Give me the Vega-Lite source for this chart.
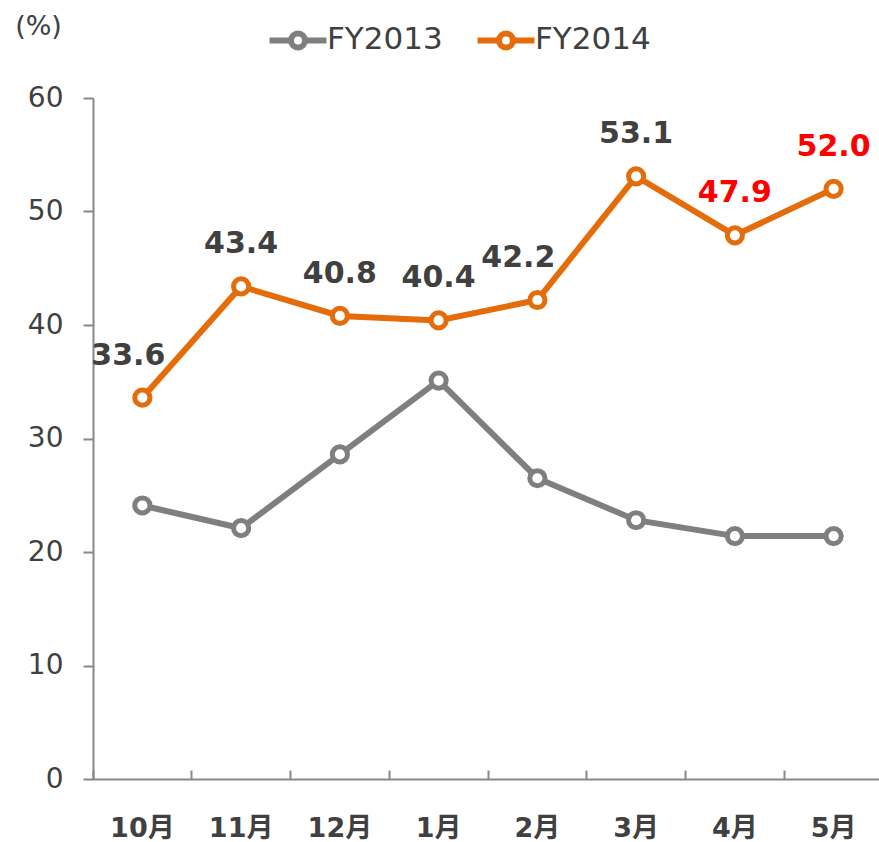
{
  "$schema": "https://vega.github.io/schema/vega-lite/v6.json",
  "autosize": "none",
  "width": 790,
  "height": 681,
  "padding": {"left": 93, "top": 98, "right": 0, "bottom": 63},
  "background": "white",
  "config": {
    "view": {"stroke": null},
    "font": "DejaVu Sans, Noto Sans CJK JP"
  },
  "data": {
    "values": [
      {"month": "10月", "series": "FY2013", "value": 24.1},
      {"month": "11月", "series": "FY2013", "value": 22.1},
      {"month": "12月", "series": "FY2013", "value": 28.6},
      {"month": "1月", "series": "FY2013", "value": 35.1},
      {"month": "2月", "series": "FY2013", "value": 26.5},
      {"month": "3月", "series": "FY2013", "value": 22.8},
      {"month": "4月", "series": "FY2013", "value": 21.4},
      {"month": "5月", "series": "FY2013", "value": 21.4},
      {"month": "10月", "series": "FY2014", "value": 33.6},
      {"month": "11月", "series": "FY2014", "value": 43.4},
      {"month": "12月", "series": "FY2014", "value": 40.8},
      {"month": "1月", "series": "FY2014", "value": 40.4},
      {"month": "2月", "series": "FY2014", "value": 42.2},
      {"month": "3月", "series": "FY2014", "value": 53.1},
      {"month": "4月", "series": "FY2014", "value": 47.9},
      {"month": "5月", "series": "FY2014", "value": 52.0}
    ]
  },
  "encoding": {
    "y": {
      "field": "value", "type": "quantitative",
      "scale": {"domain": [0, 60], "nice": false},
      "axis": {
        "values": [0, 10, 20, 30, 40, 50, 60],
        "grid": false,
        "domainColor": "#888888", "domainWidth": 2,
        "tickColor": "#888888", "tickWidth": 2, "tickSize": 10,
        "labelFontSize": 28, "labelColor": "#404040", "labelPadding": 20,
        "title": "(%)", "titleAngle": 0, "titleX": -55, "titleY": -72,
        "titleAlign": "center", "titleBaseline": "middle",
        "titleFontSize": 27, "titleFontWeight": "normal", "titleColor": "#404040"
      }
    },
    "color": {
      "field": "series", "type": "nominal",
      "scale": {"domain": ["FY2013", "FY2014"], "range": ["#7f7f7f", "#e46c0a"]},
      "legend": {
        "title": null, "orient": "none", "direction": "horizontal",
        "legendX": 183, "legendY": -80, "padding": 0,
        "symbolType": "M-1.5,0H-0.37A0.37,0.37 0 1,1 0.37,0H1.5M0.37,0A0.37,0.37 0 1,1 -0.37,0",
        "symbolSize": 1444, "symbolStrokeWidth": 6, "symbolFillColor": "white",
        "labelFontSize": 31, "labelColor": "#404040", "labelOffset": 7,
        "columnPadding": 22, "labelFont": "DejaVu Sans"
      }
    }
  },
  "layer": [
    {
      "encoding": {
        "x": {
          "field": "month", "type": "nominal",
          "sort": ["10月", "11月", "12月", "1月", "2月", "3月", "4月", "5月"],
          "scale": {"type": "band", "paddingInner": 0, "paddingOuter": 0},
          "axis": {
            "title": null, "labelAngle": 0, "orient": "bottom",
            "domainColor": "#888888", "domainWidth": 2,
            "ticks": false,
            "labelFontSize": 27, "labelFontWeight": "bold", "labelColor": "#404040",
            "labelPadding": 49, "labelBaseline": "middle",
            "labelFont": "DejaVu Sans, Noto Sans CJK JP"
          }
        }
      },
      "layer": [
        {
          "mark": {"type": "line", "strokeWidth": 6}
        },
        {
          "transform": [{"filter": "datum.series === 'FY2014' && datum.month !== '10月' && datum.month !== '2月'"}],
          "mark": {"type": "text", "fontSize": 30, "fontWeight": "bold", "dy": -42, "font": "DejaVu Sans"},
          "encoding": {
            "text": {"field": "value", "type": "quantitative", "format": ".1f"},
            "color": {
              "condition": {"test": "datum.month === '4月' || datum.month === '5月'", "value": "#ff0000"},
              "value": "#404040"
            }
          }
        },
        {
          "transform": [{"filter": "datum.series === 'FY2014' && datum.month === '10月'"}],
          "mark": {"type": "text", "fontSize": 30, "fontWeight": "bold", "dy": -42, "dx": -14, "font": "DejaVu Sans"},
          "encoding": {
            "text": {"field": "value", "type": "quantitative", "format": ".1f"},
            "color": {"value": "#404040"}
          }
        },
        {
          "transform": [{"filter": "datum.series === 'FY2014' && datum.month === '2月'"}],
          "mark": {"type": "text", "fontSize": 30, "fontWeight": "bold", "dy": -42, "dx": -19, "font": "DejaVu Sans"},
          "encoding": {
            "text": {"field": "value", "type": "quantitative", "format": ".1f"},
            "color": {"value": "#404040"}
          }
        }
      ]
    },
    {
      "mark": {"type": "point", "filled": false, "fill": "white", "strokeWidth": 5, "size": 230, "opacity": 1},
      "encoding": {
        "x": {
          "field": "month", "type": "nominal",
          "sort": ["10月", "11月", "12月", "1月", "2月", "3月", "4月", "5月"],
          "scale": {"type": "band", "paddingInner": 0, "paddingOuter": 0},
          "axis": {
            "title": null, "orient": "top", "offset": -681,
            "labels": false, "domain": false, "bandPosition": 0,
            "tickColor": "#888888", "tickWidth": 2, "tickSize": 9
          }
        }
      }
    }
  ],
  "resolve": {"axis": {"x": "independent"}}
}
